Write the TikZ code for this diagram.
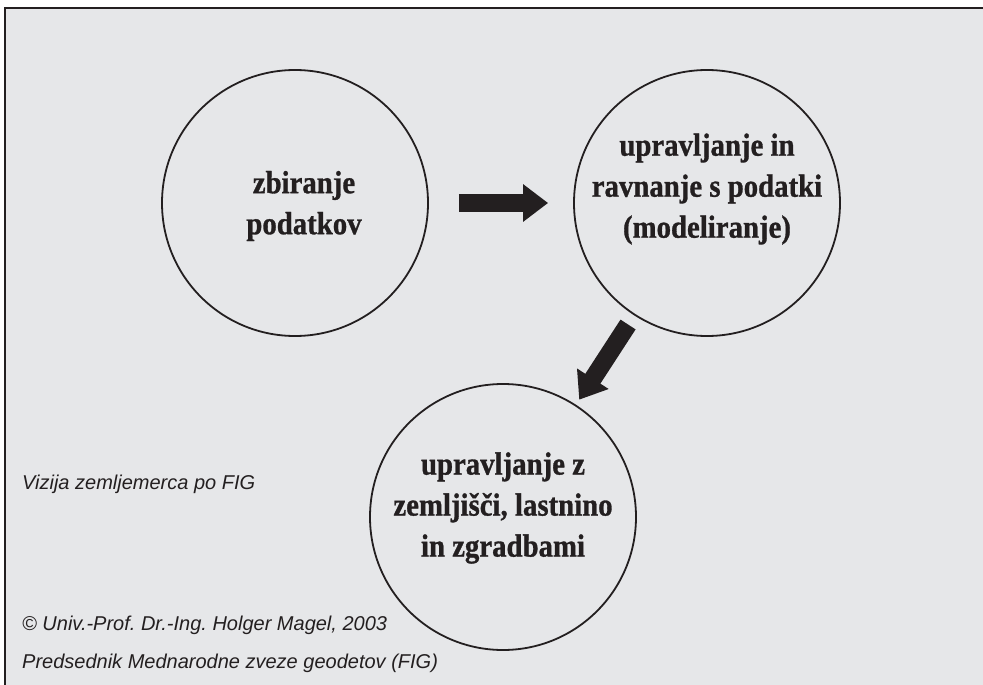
\documentclass[tikz,border=0pt]{standalone}
\usepackage{fontspec}
\setmainfont{Liberation Serif}[BoldFeatures={FakeBold=1}]
\newfontfamily\podpisfont{Liberation Sans}
\usetikzlibrary{arrows.meta}
\definecolor{ozadje}{RGB}{230,231,233}
\definecolor{crna}{RGB}{35,31,32}
\frenchspacing

\tikzset{
  krog/.style={circle, draw=crna, line width=1.8pt, minimum size=266pt, inner sep=0pt},
  napis/.style={align=center, text=crna, xscale=0.9, font=\fontsize{32}{41}\selectfont\bfseries},
  podpis/.style={anchor=west, inner sep=0pt, text=crna, font=\fontsize{20}{24}\selectfont\podpisfont\itshape},
  puscica/.style={draw=crna, line width=18pt, -{Triangle[length=25pt,width=36pt]}},
}

\begin{document}
\begin{tikzpicture}[x=1pt,y=-1pt]
	\useasboundingbox (0,0) rectangle (983,685);
	% ozadje in okvir
	\fill[ozadje] (5,8) rectangle (983,685);
	\draw[crna, line width=2.5pt] (5,685) -- (5,8) -- (983,8);

	% krogi
	\node[krog] (zbir) at (295,203) {};
	\node[krog] (uprav) at (707,203) {};
	\node[krog] (zemlj) at (503,517) {};

	\node[napis] (zbirt) at ([shift={(9,3)}]zbir.center) {zbiranje\\podatkov};
	\node[napis] (upravt) at ([shift={(0,-14)}]uprav.center) {upravljanje in\\ravnanje s podatki\\(modeliranje)};
	\node[napis] (zemljt) at ([shift={(0,-9)}]zemlj.center) {upravljanje z\\zemljišči, lastnino\\in zgradbami};

	% puscice
	\draw[puscica, shorten <=30pt, shorten >=25pt] (zbir) -- (uprav);
	\draw[puscica, shorten <=11pt, shorten >=6pt] (uprav) -- (zemlj);

	% podpisi
	\node[podpis] (vizija) at (22,484) {Vizija zemljemerca po FIG};
	\node[podpis] (avtor) at (22,625) {© Univ.-Prof. Dr.-Ing. Holger Magel, 2003};
	\node[podpis] (funkcija) at (22,663) {Predsednik Mednarodne zveze geodetov (FIG)};
\end{tikzpicture}
\end{document}
